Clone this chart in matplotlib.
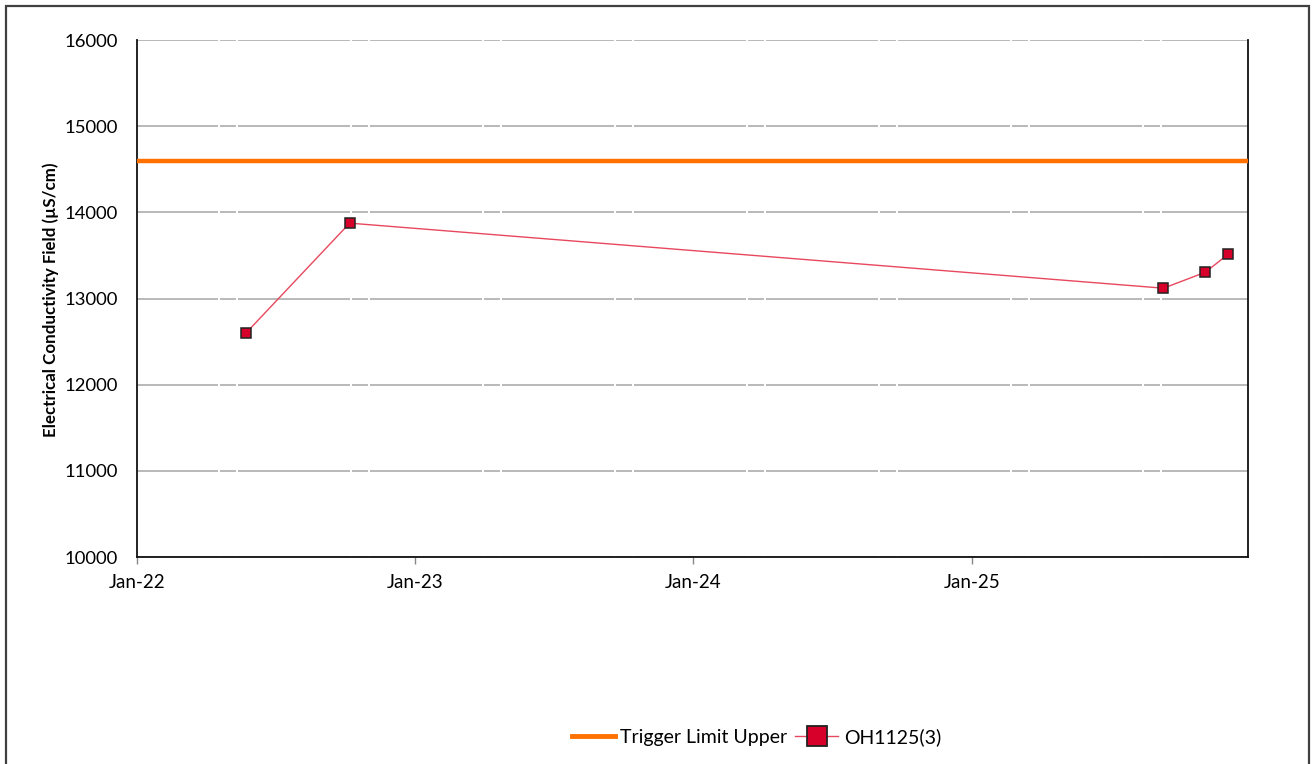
import matplotlib
matplotlib.use("Agg")
import matplotlib.pyplot as plt
import matplotlib.dates as mdates
from matplotlib.patches import Rectangle
from matplotlib.lines import Line2D
import pandas as pd

plt.rcParams["font.family"] = ["Lato", "DejaVu Sans"]

# Data
sample_dates = pd.to_datetime(["2022-05-24", "2022-10-07", "2025-09-09", "2025-11-03", "2025-12-03"])
ec_values = [12600, 13875, 13120, 13305, 13515]
trigger_upper = 14600
x_start, x_end = pd.Timestamp("2022-01-01"), pd.Timestamp("2025-12-29")
y_ticks = [10000, 11000, 12000, 13000, 14000, 15000, 16000]

fig = plt.figure(figsize=(13.14, 7.64), dpi=100)
ax = fig.add_axes([0.1043, 0.2709, 0.8455, 0.6767])

# outer frame (runs off the bottom of the picture)
fig.patches.append(Rectangle((0.0045, -0.05), 0.9915, 1.042, transform=fig.transFigure,
                             fill=False, edgecolor="#404040", linewidth=1.6))

# grid
ax.set_ylim(10000, 16000)
ax.set_yticks(y_ticks)
ax.yaxis.grid(True, color="#a6a6a6", linewidth=1.1,
              linestyle=(20.3, (73.3, 1.3, 10.5, 1.3)))
ax.set_axisbelow(True)

ax.axhline(trigger_upper, color="#ff7100", linewidth=3.2, zorder=3)
ax.plot(sample_dates, ec_values, color="#e8485e", linewidth=1.0, zorder=4)
ax.plot(sample_dates, ec_values, linestyle="none", marker="s", markersize=6.5,
        markerfacecolor="#d7002a", markeredgecolor="#222222", markeredgewidth=1.1, zorder=5)

ax.set_xlim(x_start, x_end)
ax.xaxis.set_major_locator(mdates.YearLocator())
ax.xaxis.set_major_formatter(mdates.DateFormatter("%b-%y"))

for s in ["left", "bottom", "right"]:
    ax.spines[s].set_color("#111111")
    ax.spines[s].set_linewidth(1.3)
ax.spines["top"].set_visible(False)

ax.tick_params(axis="x", length=5, width=1, color="#888888", labelsize=13.5, pad=7)
ax.tick_params(axis="y", length=0, labelsize=13.3, pad=14)

fig.text(51 / 1314, 1 - 300 / 764, "Electrical Conductivity Field (µS/cm)", rotation=90,
         ha="center", va="center", fontsize=12.2, fontweight="bold")

handles = [
    Line2D([0], [0], color="#ff7100", linewidth=3.5),
    Line2D([0], [0], color="#e8485e", linewidth=1.0, marker="s", markersize=15,
           markerfacecolor="#d7002a", markeredgecolor="#222222", markeredgewidth=1.3),
]
fig.legend(handles, ["Trigger Limit Upper", "OH1125(3)"], loc="center",
           bbox_to_anchor=(0.5757, 0.035), ncol=2, frameon=False, fontsize=14,
           handlelength=2.2, handletextpad=0.3, columnspacing=0.4)

fig.savefig("out.png", dpi=100)
